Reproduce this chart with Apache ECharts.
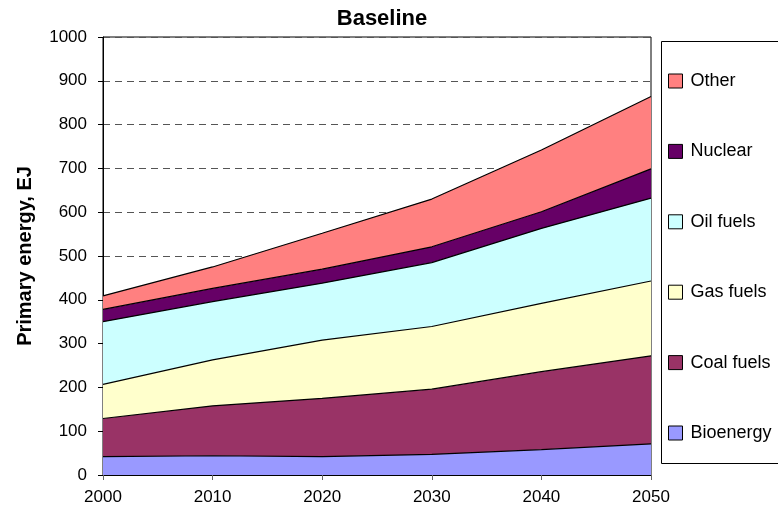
<!DOCTYPE html>
<html>
<head>
<meta charset="utf-8">
<script src="https://cdn.jsdelivr.net/npm/echarts@6/dist/echarts.min.js"></script>
<style>
  html, body { margin: 0; padding: 0; background: #fff; }
  #main { width: 778px; height: 515px; }
</style>
</head>
<body>
<div id="main"></div>
<script>
var years = ['2000', '2010', '2020', '2030', '2040', '2050'];
var bioenergy = [42, 44, 42, 47, 58, 71];
var coalFuels = [87, 114, 133, 149, 178, 201];
var gasFuels = [78, 105, 133, 143, 156, 171];
var oilFuels = [143, 133, 130, 146, 171, 189];
var nuclear = [28, 30, 32, 36, 38, 67];
var other = [31, 49, 82, 109, 141, 165];

var seriesDefs = [
    {name: 'Bioenergy', data: bioenergy, color: '#9999FF'},
    {name: 'Coal fuels', data: coalFuels, color: '#993366'},
    {name: 'Gas fuels', data: gasFuels, color: '#FFFFCC'},
    {name: 'Oil fuels', data: oilFuels, color: '#CCFFFF'},
    {name: 'Nuclear', data: nuclear, color: '#660066'},
    {name: 'Other', data: other, color: '#FF8080'}
];

var font = 'Liberation Sans, Arial, sans-serif';

var option = {
    backgroundColor: '#fff',
    animation: false,
    title: {
        text: 'Baseline',
        left: 377,
        top: 3,
        textAlign: 'center',
        textStyle: {fontFamily: font, fontSize: 22, fontWeight: 'bold', color: '#000'}
    },
    graphic: [{
        type: 'rect',
        shape: {x: 661.5, y: 41.5, width: 140, height: 422},
        style: {fill: '#fff', stroke: '#000', lineWidth: 1},
        z: -1
    }],
    legend: {
        orient: 'vertical',
        left: 668,
        top: 72,
        padding: 0,
        icon: 'rect',
        itemWidth: 14,
        itemHeight: 14,
        itemGap: 52.4,
        itemStyle: {borderColor: '#000', borderWidth: 1},
        textStyle: {fontFamily: font, fontSize: 18, color: '#000', lineHeight: 18, padding: [0, 0, 0, 3]},
        data: seriesDefs.map(function (s) { return s.name; }).reverse()
    },
    grid: {
        left: 103,
        right: 127,
        top: 37,
        bottom: 40,
        show: true,
        borderColor: '#000',
        borderWidth: 1,
        backgroundColor: '#fff'
    },
    xAxis: {
        type: 'category',
        boundaryGap: false,
        data: years,
        axisLine: {lineStyle: {color: '#000', width: 1}},
        axisTick: {show: true, length: 5, lineStyle: {color: '#666'}},
        axisLabel: {fontFamily: font, fontSize: 17, color: '#000', margin: 14}
    },
    yAxis: {
        type: 'value',
        min: 0,
        max: 1000,
        interval: 100,
        name: 'Primary energy, EJ',
        nameLocation: 'middle',
        nameGap: 68,
        nameTextStyle: {fontFamily: font, fontSize: 20, fontWeight: 'bold', color: '#000'},
        axisLine: {show: true, lineStyle: {color: '#000', width: 1}},
        axisTick: {show: true, length: 5, lineStyle: {color: '#000'}},
        axisLabel: {
            fontFamily: font, fontSize: 17, color: '#000', margin: 16,
            formatter: function (v) { return String(v); }
        },
        splitLine: {show: true, lineStyle: {color: '#555', type: [7, 5], width: 1}}
    },
    series: seriesDefs.map(function (s) {
        return {
            name: s.name,
            type: 'line',
            stack: 'total',
            data: s.data,
            showSymbol: false,
            symbol: 'none',
            lineStyle: {color: '#000', width: 1.2},
            itemStyle: {color: s.color},
            areaStyle: {color: s.color, opacity: 1}
        };
    })
};

var chart = echarts.init(document.getElementById('main'));
chart.setOption(option);
</script>
</body>
</html>
